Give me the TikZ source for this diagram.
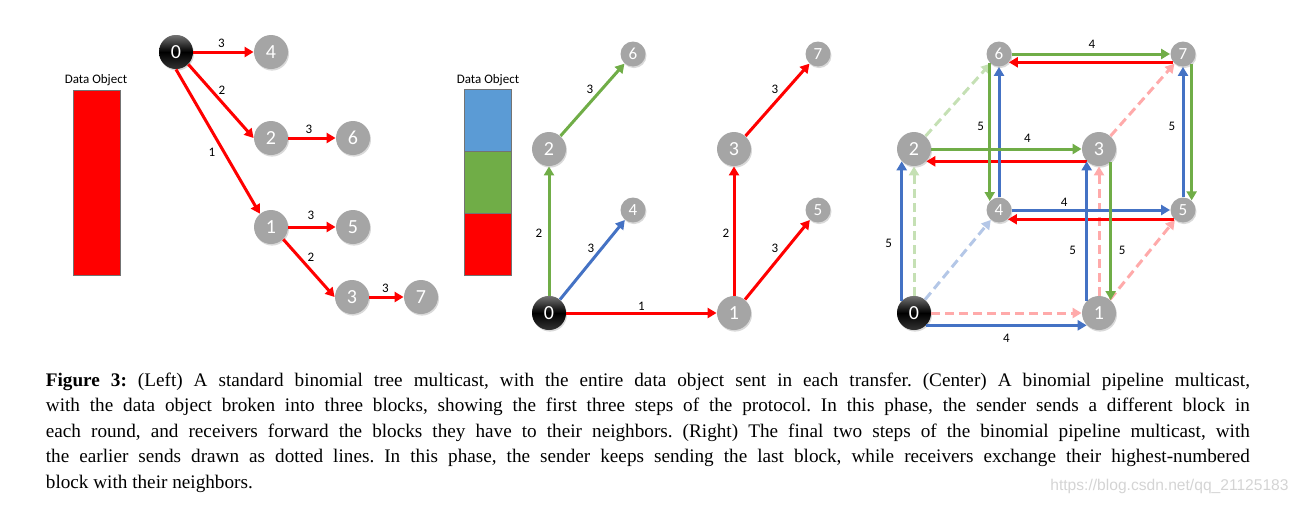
\documentclass[tikz,border=0pt]{standalone}
\usepackage{fontspec}
\setmainfont{Liberation Serif}
\newfontfamily\carlito{Carlito}
\newfontfamily\markfont{Liberation Sans}
\usetikzlibrary{arrows.meta,shadows}
\frenchspacing
\definecolor{sendred}{HTML}{FF0000}
\definecolor{sendgreen}{HTML}{70AD47}
\definecolor{sendblue}{HTML}{4472C4}
\definecolor{oldred}{HTML}{FFAAAA}
\definecolor{oldgreen}{HTML}{C5E0B4}
\definecolor{oldblue}{HTML}{B4C7E7}
\definecolor{blockblue}{HTML}{5B9BD5}
\definecolor{nodegray}{HTML}{A5A5A5}
\tikzstyle{vertex}=[circle,fill=nodegray,minimum size=17pt,inner sep=0pt,text=white,font=\carlito\fontsize{10}{10}\selectfont,drop shadow={shadow xshift=0.5pt,shadow yshift=-0.8pt,opacity=0.3}]
\tikzstyle{smallvertex}=[vertex,minimum size=12.5pt,font=\carlito\fontsize{8.5}{8.5}\selectfont]
\tikzstyle{rootvertex}=[vertex,top color=black!55,bottom color=black!80,middle color=black]
\tikzstyle{edge} = [draw,line width=1.5pt,-{Triangle[length=4.5pt,width=5pt]}]
\tikzstyle{oldedge} = [edge,dash pattern=on 4.5pt off 2.5pt]
\tikzstyle{weight} = [font=\carlito\fontsize{6.5}{7}\selectfont,inner sep=0pt]
\tikzstyle{block} = [draw=black!55,line width=0.5pt]
\tikzstyle{caption} = [inner sep=0pt,anchor=base west,font=\fontsize{9.6}{12}\selectfont]

\begin{document}
\begin{tikzpicture}[x=0.5pt,y=-0.5pt]
    \useasboundingbox (0,0) rectangle (1302,509);
    % Left: binomial tree, whole object per transfer
    \node[weight] (lobj) at (96,80) {Data Object};
    \draw[block,fill=sendred] (73,90) rectangle (120,275);
    \node[rootvertex] (l0) at (176,52) {0};
    \foreach \pos/\name/\num in {{(271,52)/l4/4}, {(271,138)/l2/2}, {(353,138)/l6/6},
                                 {(271,227)/l1/1}, {(353,227)/l5/5}, {(352,297)/l3/3}, {(421,297)/l7/7}}
        \node[vertex] (\name) at \pos {\num};
    \foreach \source/\dest/\weight/\p/\dx/\dy in {l0.east/l4.west/3/.5/-2/-9, l0.-45/l2.west/2/.5/1/-11,
            l0.south/l1.130/1/.5/-6/11, l2.east/l6.west/3/.5/-3/-9, l1.east/l5.west/3/.5/-1/-11.5,
            l1.-45/l3.west/2/.5/2/-11, l3.east/l7.west/3/.5/-1/-9}
        \path[edge,draw=sendred] (\source) -- node[weight,pos=\p,shift={(\dx,\dy)}] {\weight} (\dest);

    % Center: pipeline, first three steps
    \node[weight] (cobj) at (488,80) {Data Object};
    \draw[block,fill=blockblue] (464,89) rectangle (511,151);
    \draw[block,fill=sendgreen] (464,151) rectangle (511,213);
    \draw[block,fill=sendred] (464,213) rectangle (511,275);
    \node[rootvertex] (c0) at (549,313) {0};
    \foreach \pos/\name/\num in {{(734,313)/c1/1}, {(549,149)/c2/2}, {(734,149)/c3/3}}
        \node[vertex] (\name) at \pos {\num};
    \foreach \pos/\name/\num in {{(633,210)/c4/4}, {(818,210)/c5/5}, {(633,54)/c6/6}, {(818,54)/c7/7}}
        \node[smallvertex] (\name) at \pos {\num};
    \foreach \source/\dest/\col/\weight/\dx/\dy in {c0/c1/sendred/1/0/-6.5, c0/c2/sendgreen/2/-10/2,
            c0/c4/sendblue/3/-1.5/-11, c2/c6/sendgreen/3/-2.5/-10, c1/c3/sendred/2/-8/2,
            c1/c5/sendred/3/-2.5/-11, c3/c7/sendred/3/-2.5/-10}
        \path[edge,draw=\col] (\source) -- node[weight,shift={(\dx,\dy)}] {\weight} (\dest);

    % Right: last two steps, earlier sends dashed
    \node[rootvertex] (r0) at (914,313) {0};
    \foreach \pos/\name/\num in {{(1099,313)/r1/1}, {(914,149)/r2/2}, {(1099,149)/r3/3}}
        \node[vertex] (\name) at \pos {\num};
    \foreach \pos/\name/\num in {{(999,210)/r4/4}, {(1183,210)/r5/5}, {(999,54)/r6/6}, {(1183,54)/r7/7}}
        \node[smallvertex] (\name) at \pos {\num};
    \foreach \source/\dest/\col in {r0/r1/oldred, r0/r2/oldgreen, r0/r4/oldblue, r2/r6/oldgreen,
            r1/r3/oldred, r1/r5/oldred, r3/r7/oldred}
        \path[oldedge,draw=\col] (\source) -- (\dest);
    \foreach \source/\dest/\col in {r7.-140/r6.-40/sendred, r3.-135/r2.-45/sendred,
            r5.-134/r4.-46/sendred, r4/r6/sendblue, r7.-48/r5.48/sendgreen}
        \path[edge,draw=\col] (\source) -- (\dest);
    \foreach \source/\dest/\col/\weight/\p/\dx/\dy in {r6/r7/sendgreen/4/.5/1/-10,
            r2/r3/sendgreen/4/.64/0/-11, r4/r5/sendblue/4/.33/0/-8, r0.-45/r1.-135/sendblue/4/.5/0/13,
            r0.135/r2.-135/sendblue/5/.41/-13/0, r6.-136/r4.136/sendgreen/5/.46/-9/0,
            r1.135/r3.-135/sendblue/5/.36/-14/0, r3.-48/r1.48/sendgreen/5/.64/11.5/0,
            r5/r7/sendblue/5/.54/-11/0}
        \path[edge,draw=\col] (\source) -- node[weight,pos=\p,shift={(\dx,\dy)}] {\weight} (\dest);

    % Caption
    \foreach \i/\txt in {0/{\textbf{Figure 3:} (Left) A standard binomial tree multicast, with the entire data object sent in each transfer. (Center) A binomial pipeline multicast,},
            1/{with the data object broken into three blocks, showing the first three steps of the protocol. In this phase, the sender sends a different block in},
            2/{each round, and receivers forward the blocks they have to their neighbors. (Right) The final two steps of the binomial pipeline multicast, with},
            3/{the earlier sends drawn as dotted lines. In this phase, the sender keeps sending the last block, while receivers exchange their highest-numbered}}
        \node[caption] (cap\i) at (45.5,{386.5+25.4*\i}) {\makebox[602pt][s]{\txt}};
    \node[caption] (cap4) at (45.5,488) {block with their neighbors.};
    \node[inner sep=0pt,anchor=base east,text=black!17,font=\markfont\fontsize{7.8}{8}\selectfont] (mark) at (1289,490) {https://blog.csdn.net/qq\_21125183};
\end{tikzpicture}
\end{document}
